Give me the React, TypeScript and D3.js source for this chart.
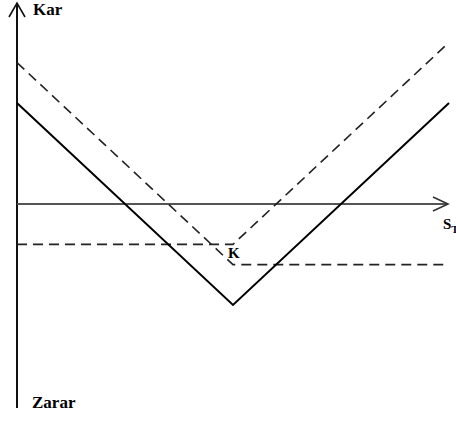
import React from "react";
import * as d3 from "d3";

// Straddle payoff data (S_T vs profit)
const strike = 50;
const callPremium = 10;
const putPremium = 15;
const sGrid = [0, 50, 100];
const sGridDashed = [0, 50, 99];

const W = 456;
const H = 421;

export default function App() {
  const x = d3.scaleLinear().domain([0, 100]).range([17, 449]);
  const y = d3.scaleLinear().domain([-50, 50]).range([406, 2]);

  const call = (s: number) => Math.max(s - strike, 0) - callPremium;
  const put = (s: number) => Math.max(strike - s, 0) - putPremium;
  const straddle = (s: number) => call(s) + put(s);

  const line = d3
    .line<[number, number]>()
    .x((d) => x(d[0]))
    .y((d) => y(d[1]));

  const straddlePts: [number, number][] = sGrid.map((s) => [s, straddle(s)]);
  const callPts: [number, number][] = sGridDashed.map((s) => [s, call(s)]);
  const putPts: [number, number][] = sGridDashed.map((s) => [s, put(s)]);

  const x0 = x(0);
  const y0 = y(0);
  const font = "'Liberation Serif', 'DejaVu Serif', serif";

  return (
    <svg
      width={W}
      height={H}
      style={{ position: "absolute", left: 0, top: 0, background: "#fff" }}
    >
      {/* y axis */}
      <line x1={x0} y1={408} x2={x0} y2={3} stroke="#111" strokeWidth={2} />
      <polyline
        points={`${x0 - 8},17 ${x0},3 ${x0 + 8},17`}
        fill="none"
        stroke="#111"
        strokeWidth={1.6}
      />
      {/* x axis */}
      <line x1={x0} y1={y0} x2={448} y2={y0} stroke="#555" strokeWidth={2} />
      <polyline
        points={`433,${y0 - 7} 448,${y0} 433,${y0 + 7}`}
        fill="none"
        stroke="#333"
        strokeWidth={1.6}
      />

      {/* long call & long put (dashed) */}
      <path
        d={line(callPts) || ""}
        fill="none"
        stroke="#222"
        strokeWidth={1.6}
        strokeDasharray="10,6"
      />
      <path
        d={line(putPts) || ""}
        fill="none"
        stroke="#222"
        strokeWidth={1.6}
        strokeDasharray="10,6"
      />
      {/* straddle (solid) */}
      <path
        d={line(straddlePts) || ""}
        fill="none"
        stroke="#000"
        strokeWidth={2}
      />

      <text x={33} y={15} fontFamily={font} fontWeight="bold" fontSize={17}>
        Kar
      </text>
      <text x={32} y={408} fontFamily={font} fontWeight="bold" fontSize={17}>
        Zarar
      </text>
      <text x={x(strike) - 5} y={258} fontFamily={font} fontWeight="bold" fontSize={15}>
        K
      </text>
      <text x={443} y={229} fontFamily={font} fontWeight="bold" fontSize={15}>
        S
        <tspan fontSize={11} dy={4}>
          T
        </tspan>
      </text>
    </svg>
  );
}
